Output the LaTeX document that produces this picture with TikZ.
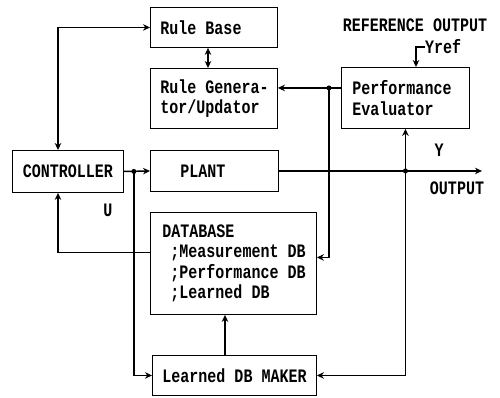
\documentclass[tikz,border=0pt]{standalone}
\usepackage{fontspec}
\newfontfamily\dfont[FakeStretch=0.79]{Liberation Mono}
\DeclareRobustCommand\dsel{\dfont\bfseries\fontsize{19}{20.5}\selectfont}
\usetikzlibrary{arrows.meta}
\begin{document}
\begin{tikzpicture}[x=1pt,y=-1pt,
  every node/.style={font=\dsel},
  box/.style={draw, line width=0.9pt, anchor=north west, inner sep=0pt, align=flush left},
  conn/.style={line width=1.4pt, -{Stealth[length=7pt,width=6.5pt]}},
  dconn/.style={line width=1.4pt, {Stealth[length=7pt,width=6.5pt]}-{Stealth[length=7pt,width=6.5pt]}},
  lbl/.style={inner sep=0pt}]
\useasboundingbox (0,0) rectangle (500,397);
% boxes
\node[box, minimum width=127pt, minimum height=40pt, text width=127pt] (rb) at (150,7) {\hspace*{10pt}Rule Base};
\node[box, minimum width=127pt, minimum height=60pt, text width=127pt] (rg) at (150,68) {\hspace*{10pt}Rule Genera-\\\hspace*{10pt}tor/Updator};
\node[box, minimum width=111pt, minimum height=42pt, align=center] (ctl) at (12,150) {CONTROLLER};
\node[box, minimum width=128pt, minimum height=41pt, text width=128pt] (pl) at (150,150) {\hspace*{30pt}PLANT};
\node[box, minimum width=128pt, minimum height=61pt, text width=128pt] (pe) at (341,67) {\hspace*{11pt}Performance\\\hspace*{11pt}Evaluator};
\node[box, minimum width=166pt, minimum height=102pt, text width=166pt] (db) at (150,212) {\hspace*{12pt}DATABASE\\\hspace*{20pt};Measurement DB\\\hspace*{20pt};Performance DB\\\hspace*{20pt};Learned DB};
\node[box, minimum width=164pt, minimum height=40pt, text width=164pt] (ldm) at (152,355) {\hspace*{10pt}Learned DB MAKER};
% labels
\node[lbl] (refout) at (415,25) {REFERENCE OUTPUT};
\node[lbl, anchor=west] (yref) at (425,47) {Yref};
\node[lbl] (ulbl) at (108,210) {U};
\node[lbl] (ylbl) at (439,150) {Y};
\node[lbl] (outlbl) at (457,188) {OUTPUT};
% coordinates
\coordinate (j1) at ([xshift=10pt]ctl.east);
\coordinate (j2) at (pe.south |- pl.east);
\coordinate (pin) at ([yshift=10pt]pe.west);
\coordinate (j3) at ([xshift=-12pt]pin);
\coordinate (outend) at (482,0 |- pl.east);
% connectors
\draw[dconn] ([xshift=46pt]ctl.north west) |- (rb.west);
\draw[dconn] ([xshift=58pt]rb.south west) -- ([xshift=58pt]rg.north west);
\draw[conn] (ctl.east) -- (pl.west);
\draw[conn] (j1) |- (ldm.west);
\draw[conn] ([yshift=11pt]db.west) -| ([xshift=46pt]ctl.south west);
\draw[conn] (pl.east) -- (outend);
\draw[conn] (j2) -- (pe.south);
\draw[conn] (j2) |- (ldm.east);
\draw[conn] (pin) -- (pin -| rg.east);
\draw[conn] (j3) |- ([yshift=6pt]db.east);
\draw[conn] ([xshift=73pt]ldm.north west) -- ([xshift=73pt]ldm.north west |- db.south);
\draw[conn] (yref.west) -| ([xshift=75pt]pe.north west);
\fill (j1) circle (2.5);
\fill (j2) circle (2.5);
\fill (j3) circle (2.5);
\end{tikzpicture}
\end{document}
